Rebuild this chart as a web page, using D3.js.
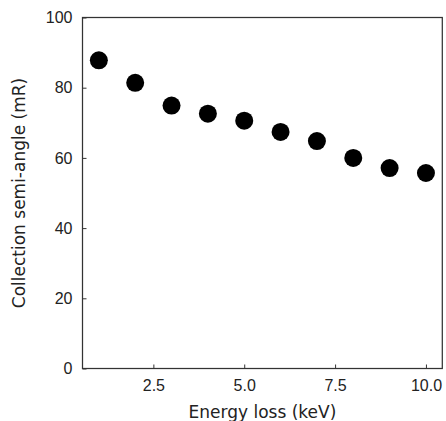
<!DOCTYPE html>
<html>
<head>
<meta charset="utf-8">
<script src="https://cdn.jsdelivr.net/npm/d3@7"></script>
<style>
  html, body { margin: 0; padding: 0; background: #fff; }
  svg { display: block; font-family: "DejaVu Sans", sans-serif; }
</style>
</head>
<body>
<svg id="chart" width="446" height="421"></svg>
<script>
// Energy loss (keV) and the corresponding collection semi-angle (mR)
const energyLoss = [1, 2, 3, 4, 5, 6, 7, 8, 9, 10];
const semiAngle = [87.8, 81.4, 74.9, 72.6, 70.6, 67.4, 64.8, 60.0, 57.1, 55.7];
const xTicks = [2.5, 5.0, 7.5, 10.0];
const yTicks = [0, 20, 40, 60, 80, 100];

const svg = d3.select("#chart");
const margin = { left: 82.5, right: 3.7, top: 17.5, bottom: 52.5 };
const W = 446, H = 421;

const x = d3.scaleLinear().domain([0.55, 10.45]).range([margin.left, W - margin.right]);
const y = d3.scaleLinear().domain([0, 100]).range([H - margin.bottom, margin.top]);

const axisColor = "#333";
const textColor = "#222";

// frame
svg.append("rect")
  .attr("x", margin.left).attr("y", margin.top)
  .attr("width", W - margin.left - margin.right)
  .attr("height", H - margin.top - margin.bottom)
  .attr("fill", "none").attr("stroke", axisColor).attr("stroke-width", 1.25);

// x axis with inward ticks
const gx = svg.append("g")
  .attr("transform", `translate(0,${H - margin.bottom})`)
  .call(d3.axisBottom(x).tickValues(xTicks).tickFormat(d3.format(".1f"))
    .tickSizeInner(-4).tickSizeOuter(0).tickPadding(11.5));
gx.select(".domain").remove();
gx.selectAll("line").attr("stroke", axisColor);
gx.selectAll("text").attr("fill", textColor).style("font-size", "16px");

// y axis with inward ticks
const gy = svg.append("g")
  .attr("transform", `translate(${margin.left},0)`)
  .call(d3.axisLeft(y).tickValues(yTicks).tickFormat(d3.format("d"))
    .tickSizeInner(-4).tickSizeOuter(0).tickPadding(10));
gy.select(".domain").remove();
gy.selectAll("line").attr("stroke", axisColor);
gy.selectAll("text").attr("fill", textColor).style("font-size", "16px");

// axis titles
svg.append("text")
  .attr("x", (margin.left + W - margin.right) / 2)
  .attr("y", 417.5)
  .attr("text-anchor", "middle")
  .attr("fill", textColor)
  .style("font-size", "17px")
  .text("Energy loss (keV)");

svg.append("text")
  .attr("transform", `translate(24.5,${(margin.top + H - margin.bottom) / 2}) rotate(-90)`)
  .attr("text-anchor", "middle")
  .attr("fill", textColor)
  .style("font-size", "17px")
  .text("Collection semi-angle (mR)");

// data points
svg.append("g").selectAll("circle")
  .data(energyLoss.map((e, i) => ({ e, v: semiAngle[i] })))
  .join("circle")
  .attr("cx", d => x(d.e))
  .attr("cy", d => y(d.v))
  .attr("r", 9)
  .attr("fill", "#000");
</script>
</body>
</html>
